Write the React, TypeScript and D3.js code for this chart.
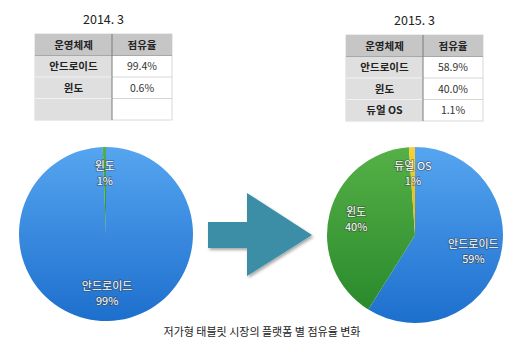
import * as React from 'react';
import * as d3 from 'd3';

const headers = ['운영체제', '점유율'];
const titles = ['2014. 3', '2015. 3'];
const os2014 = ['안드로이드', '윈도'];
const share2014 = [99.4, 0.6];
const os2015 = ['안드로이드', '윈도', '듀얼 OS'];
const share2015 = [58.9, 40.0, 1.1];
const caption = '저가형 태블릿 시장의 플랫폼 별 점유율 변화';

const FONT = '"Noto Sans CJK KR", "Noto Sans", sans-serif';
const W = 520;
const H = 352;

const fills: any = {
  '안드로이드': 'url(#gBlue)',
  '윈도': 'url(#gGreen)',
  '듀얼 OS': 'url(#gYellow)',
};

function Table(props: any) {
  const { x, y, title, names, values } = props;
  const colW = [77, 60];
  const rowH = 21.5;
  const rows = 4;
  const rowScale = d3.scaleLinear().domain([0, rows]).range([y, y + rowH * rows]);
  const total = colW[0] + colW[1];
  return (
    <g>
      <text x={x + total / 2} y={y - 10} textAnchor="middle" fontSize={12.5} fill="#222">{title}</text>
      <rect x={x} y={y} width={total} height={rowH * rows} fill="#fff" stroke="#d8d8d8" />
      <rect x={x} y={rowScale(0)} width={total} height={rowH} fill="#c6c6c6" />
      <rect x={x} y={rowScale(1)} width={colW[0]} height={rowH * 3} fill="#dfdfdf" />
      {[2, 3].map((r) => (
        <g key={r}>
          <line x1={x} x2={x + colW[0]} y1={rowScale(r)} y2={rowScale(r)} stroke="#f2f2f2" strokeWidth={1.2} />
          <line x1={x + colW[0]} x2={x + total} y1={rowScale(r)} y2={rowScale(r)} stroke="#d6d6d6" />
        </g>
      ))}
      <line x1={x} x2={x + total} y1={rowScale(1)} y2={rowScale(1)} stroke="#a8a8a8" />
      <line x1={x + colW[0]} x2={x + colW[0]} y1={y} y2={y + rowH * rows} stroke="#7a7a7a" />
      {headers.map((h, i) => (
        <text key={h} x={x + (i === 0 ? colW[0] / 2 : colW[0] + colW[1] / 2)} y={rowScale(0) + rowH / 2 + 4}
          textAnchor="middle" fontSize={10.5} fontWeight="bold" fill="#222">{h}</text>
      ))}
      {names.map((n: string, i: number) => (
        <g key={n}>
          <text x={x + colW[0] / 2} y={rowScale(i + 1) + rowH / 2 + 4} textAnchor="middle" fontSize={10.5}
            fontWeight="bold" fill="#222">{n}</text>
          <text x={x + colW[0] + colW[1] / 2} y={rowScale(i + 1) + rowH / 2 + 4} textAnchor="middle"
            fontSize={10.5} fill="#333">{values[i].toFixed(1) + '%'}</text>
        </g>
      ))}
    </g>
  );
}

function Pie(props: any) {
  const { cx, cy, r, names, values } = props;
  const data = names.map((n: string, i: number) => ({ name: n, value: values[i] }));
  const pie = d3.pie<any>().sort(null).value((d: any) => d.value);
  const arcs = pie(data);
  const arc = d3.arc<any>().innerRadius(0).outerRadius(r);
  const labelArc = d3.arc<any>().innerRadius(r * 0.69).outerRadius(r * 0.69);
  return (
    <g transform={`translate(${cx},${cy})`}>
      {arcs.map((a: any) => (
        <path key={a.data.name} d={arc(a) as string} fill={fills[a.data.name]} />
      ))}
      {arcs.map((a: any) => {
        const [lx, ly] = labelArc.centroid(a);
        return (
          <g key={'l' + a.data.name} fontSize={11} fill="#fff" stroke="#3a3a3a" strokeWidth={1.6}
            strokeOpacity={0.55} style={{ paintOrder: 'stroke' } as any} textAnchor="middle">
            <text x={lx} y={ly - 4}>{a.data.name}</text>
            <text x={lx} y={ly + 11}>{Math.round(a.data.value) + '%'}</text>
          </g>
        );
      })}
    </g>
  );
}

export default function App() {
  const arrow = d3.line()([
    [208, 222], [247, 222], [247, 193], [312, 235], [247, 276], [247, 248], [208, 248],
  ]) + 'Z';
  return (
    <div style={{ position: 'absolute', left: 0, top: 0 }}>
      <svg width={W} height={H} style={{ display: 'block', fontFamily: FONT }}>
        <defs>
          <linearGradient id="gBlue" x1="0" y1="0" x2="0" y2="1">
            <stop offset="0" stopColor="#55a5f0" />
            <stop offset="1" stopColor="#1d6fcd" />
          </linearGradient>
          <linearGradient id="gGreen" x1="0" y1="0" x2="0" y2="1">
            <stop offset="0" stopColor="#55b046" />
            <stop offset="1" stopColor="#2a8a2c" />
          </linearGradient>
          <linearGradient id="gYellow" x1="0" y1="0" x2="0" y2="1">
            <stop offset="0" stopColor="#f5d13a" />
            <stop offset="1" stopColor="#e6b800" />
          </linearGradient>
          <filter id="shadow" x="-20%" y="-20%" width="150%" height="150%">
            <feDropShadow dx="1.5" dy="2" stdDeviation="1.5" floodColor="#000" floodOpacity="0.35" />
          </filter>
        </defs>
        <rect width={W} height={H} fill="#fff" />
        <Table x={35} y={34} title={titles[0]} names={os2014} values={share2014} />
        <Table x={346} y={35} title={titles[1]} names={os2015} values={share2015} />
        <Pie cx={106} cy={234} r={87} names={os2014} values={share2014} />
        <Pie cx={415} cy={235} r={88} names={os2015} values={share2015} />
        <path d={arrow} fill="#3a8ea6" filter="url(#shadow)" />
        <text x={262} y={336} textAnchor="middle" fontSize={11} fill="#222">{caption}</text>
      </svg>
    </div>
  );
}
